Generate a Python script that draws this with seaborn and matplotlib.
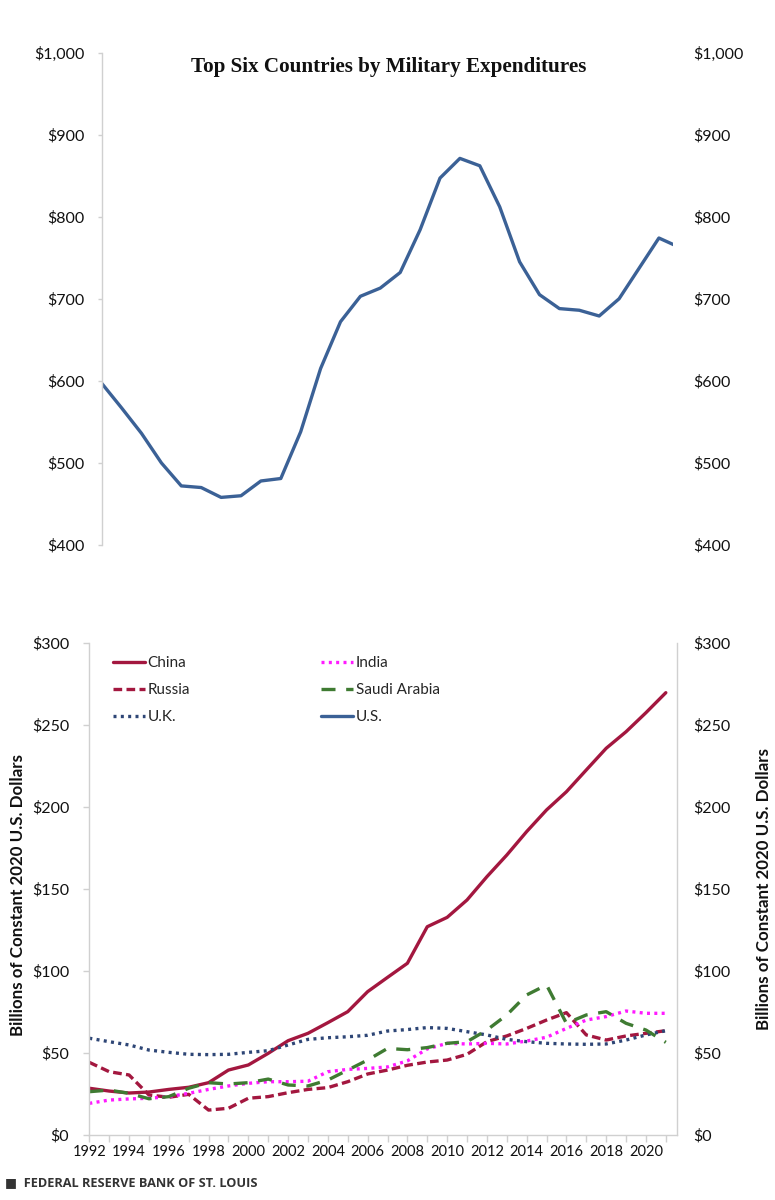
import matplotlib
matplotlib.use("Agg")
import matplotlib.pyplot as plt
import seaborn as sns
import pandas as pd
from matplotlib.ticker import FixedLocator, MultipleLocator
from matplotlib.transforms import ScaledTranslation

years = list(range(1992, 2022))
countries = ["China", "Russia", "U.K.", "India", "Saudi Arabia", "U.S."]

china = [28.5, 26.8, 25.6, 26.2, 27.8, 29.1, 31.9, 39.6, 42.7, 49.8, 57.5, 62.0, 68.5, 75.2, 87.4,
         96.1, 104.7, 127.0, 132.7, 143.3, 157.5, 170.7, 185.0, 198.2, 209.3, 222.6, 235.8, 245.9, 257.5, 269.7]
russia = [44.3, 38.6, 36.6, 24.4, 23.0, 24.8, 15.2, 16.3, 22.4, 23.4, 25.8, 27.8, 28.9, 32.5, 37.2,
          39.6, 42.5, 44.5, 45.7, 49.2, 56.9, 60.4, 65.0, 70.1, 74.6, 61.0, 57.9, 60.4, 62.0, 63.6]
india = [19.3, 21.3, 22.0, 22.4, 23.4, 25.4, 27.8, 29.9, 31.5, 32.5, 32.5, 32.8, 38.6, 40.0, 40.6,
         41.5, 45.2, 52.5, 55.9, 55.5, 55.9, 55.5, 57.3, 59.6, 65.0, 70.1, 72.2, 75.6, 74.2, 74.2]
saudi = [26.4, 27.4, 25.4, 22.1, 23.4, 28.5, 31.9, 31.1, 31.9, 34.1, 30.5, 29.9, 33.5, 39.6, 45.7,
         52.8, 52.0, 53.3, 55.9, 56.9, 64.0, 73.2, 85.4, 91.5, 68.1, 73.2, 75.2, 68.1, 64.0, 56.5]
uk = [59.0, 56.9, 54.9, 51.8, 50.4, 49.2, 49.0, 49.2, 50.4, 51.4, 54.9, 58.3, 59.3, 59.9, 60.8,
      63.4, 64.3, 65.5, 65.0, 63.0, 61.0, 58.3, 56.9, 55.9, 55.5, 55.3, 55.5, 57.9, 61.0, 63.6]
us = [597, 567, 536, 500, 472, 470, 458, 460, 478, 481, 538, 615, 672, 703, 713,
      732, 784, 847, 871, 862, 812, 745, 705, 688, 686, 679, 700, 737, 774, 763]

top_ticks = [400, 500, 600, 700, 800, 900, 1000]
bottom_ticks = [0, 50, 100, 150, 200, 250, 300]
year_labels = list(range(1992, 2021, 2))

title = "Top Six Countries by Military Expenditures"
ylabel = "Billions of Constant 2020 U.S. Dollars"
footer = "\u25A0  FEDERAL RESERVE BANK OF ST. LOUIS"

series = {"China": china, "Russia": russia, "U.K.": uk, "India": india,
          "Saudi Arabia": saudi, "U.S.": us}
df = pd.DataFrame([{"year": y, "value": v, "country": c}
                   for c in countries for y, v in zip(years, series[c])])

palette = {"China": "#A3173F", "Russia": "#A3173F", "U.K.": "#2E4676",
           "India": "#FF1AFF", "Saudi Arabia": "#3F7B32", "U.S.": "#3B6196"}
dashes = {"China": "", "Russia": (2.6, 1.3), "U.K.": (0.9, 1.3),
          "India": (0.9, 1.3), "Saudi Arabia": (4.2, 3.2), "U.S.": ""}

sns.set_theme(style="white")
plt.rcParams["font.family"] = ["Lato", "DejaVu Sans"]

W, H = 775, 1200
fig = plt.figure(figsize=(W / 100, H / 100), dpi=100)

def fx(px):
    return px / W

def fy(py):
    return 1 - py / H

bl, br, bt, bb = 89.3, 676.7, 643, 1135
axb = fig.add_axes([fx(bl), fy(bb), (br - bl) / W, (bb - bt) / H])
tl, tr, tt, tb = 101.7, 673, 52.5, 545
axt = fig.add_axes([fx(tl), fy(tb), (tr - tl) / W, (tb - tt) / H])

grey = "#D0D0D0"
for ax in (axt, axb):
    sns.lineplot(data=df, x="year", y="value", hue="country", style="country",
                 palette=palette, dashes=dashes, linewidth=2.4, ax=ax,
                 legend=(ax is axb))
    ax.set_xlabel("")
    ax.set_ylabel("")
    ax.grid(False)
    for s in ax.spines.values():
        s.set_color(grey)
        s.set_linewidth(1.0)

axb.set_xlim(1992, 1992 + (br - bl) / 19.88)
axb.set_ylim(0, 300)
axt.set_xlim(1992, 1992 + (tr - tl) / 19.9)
axt.set_ylim(400, 1000)

fs_y = 11.5
fs_x = 10.5

axb.spines["top"].set_visible(False)
axb.yaxis.set_major_locator(FixedLocator(bottom_ticks))
axb.set_yticklabels([f"${v:,}" for v in bottom_ticks])
axb.xaxis.set_major_locator(FixedLocator(year_labels))
axb.xaxis.set_minor_locator(MultipleLocator(1))
axb.set_xticklabels([str(y) for y in year_labels])
axb.tick_params(axis="x", which="both", direction="out", length=5, width=1,
                color=grey, bottom=True, labelsize=fs_x, labelcolor="#111111", pad=2)
axb.tick_params(axis="y", which="major", direction="out", length=4, width=1,
                color=grey, left=True, right=False, labelleft=True, labelright=True,
                labelsize=fs_y, labelcolor="#111111", pad=10.5)

for s in ("top", "right", "bottom"):
    axt.spines[s].set_visible(False)
axt.yaxis.set_major_locator(FixedLocator(top_ticks))
axt.set_yticklabels([f"${v:,}" for v in top_ticks])
axt.set_xticks([])
axt.tick_params(axis="y", which="major", direction="out", length=3, width=1,
                color=grey, left=True, right=False, labelleft=True, labelright=True,
                labelsize=fs_y, labelcolor="#111111", pad=9.5)

fig.canvas.draw()
for ax in (axb, axt):
    for t in ax.yaxis.get_major_ticks():
        lab = t.label2
        bbox = lab.get_window_extent()
        dx = (693 - bbox.x0) / 100.0
        lab.set_transform(lab.get_transform() + ScaledTranslation(dx, 0, fig.dpi_scale_trans))

handles, labels = axb.get_legend_handles_labels()
hmap = dict(zip(labels, handles))
order = ["China", "Russia", "U.K.", "India", "Saudi Arabia", "U.S."]
axb.legend([hmap[c] for c in order], order, ncol=2, loc="upper left",
           bbox_to_anchor=((113 - bl) / (br - bl), 1 - (656 - bt) / (bb - bt)),
           frameon=False, fontsize=11, handlelength=2.1, handletextpad=0.15,
           columnspacing=8.6, labelspacing=0.85, borderpad=0, borderaxespad=0)

fig.text(fx(389), fy(67), title, ha="center", va="center", fontsize=15.2,
         fontweight="bold", family=["Liberation Serif", "DejaVu Serif"], color="#111111")
fig.text(fx(18), fy(895), ylabel, rotation=90, ha="center", va="center",
         fontsize=12.2, fontweight="bold", color="#111111")
fig.text(fx(764), fy(889), ylabel, rotation=90, ha="center", va="center",
         fontsize=12.2, fontweight="bold", color="#111111")
fig.text(fx(5), fy(1183), footer, ha="left", va="center", fontsize=9.2,
         fontweight="bold", color="#333333", family=["Open Sans", "DejaVu Sans"])

fig.savefig("out.png", dpi=100)
